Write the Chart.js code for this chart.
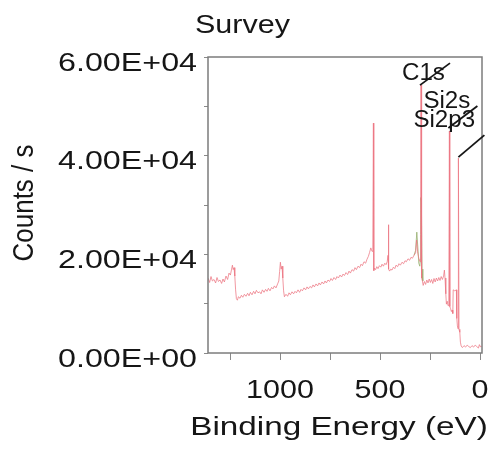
<!DOCTYPE html>
<html>
<head>
<meta charset="utf-8">
<script src="https://cdn.jsdelivr.net/npm/chart.js@4"></script>
<style>
  body { margin: 0; background: #fff; }
  #wrap { width: 492px; height: 449px; }
</style>
</head>
<body>
<div id="wrap"><canvas id="surveyChart" width="492" height="449"></canvas></div>
<script>
// binding energy (eV) and counts/s
const energy = [
  1360, 1352, 1345, 1338, 1330, 1322, 1315, 1308, 1300, 1292, 1285, 1278, 1270, 1262, 1255, 1248,
  1242, 1238, 1234, 1230, 1226, 1222, 1218, 1213,
  1208, 1200, 1193, 1186, 1178, 1170, 1162, 1155, 1148, 1140, 1132, 1125, 1118, 1110, 1102, 1095,
  1088, 1080, 1072, 1065, 1058, 1050, 1042, 1035, 1028, 1020, 1012, 1006, 1002, 998, 994, 990,
  986, 982, 978,
  970, 962, 955, 948, 940, 932, 925, 918, 910, 902, 895, 888, 880, 872, 865, 858, 850, 842, 835,
  828, 820, 812, 805, 798, 790, 782, 775, 768, 760, 752, 745, 738, 730, 722, 715, 708, 700, 692,
  685, 678, 670, 662, 655, 648, 640, 632, 625, 618, 610, 602, 595, 588, 580, 572, 565, 558, 552,
  546, 540, 536, 533, 531, 527, 522, 516, 510, 503, 496, 490, 483, 476, 470, 464, 460, 458, 456,
  452, 446, 440, 433, 426, 420, 412, 405, 398, 390, 382, 375, 368, 360, 352, 345, 338, 330, 322,
  317, 312, 306, 300, 297, 295, 292,
  288, 284, 278, 272, 266, 260, 254, 248, 242, 236, 230, 224, 218, 212, 206, 200, 194, 188, 182,
  178, 175, 171, 168, 164, 160, 156, 153, 151, 147, 143, 139, 136, 134, 126, 118, 116, 113, 110,
  108, 105, 101, 98, 94, 88, 80, 72, 64, 56, 48, 40, 32, 24, 16, 8, 3, -3, -8
];
const counts = [
  15200, 14300, 15500, 14600, 14900, 14200, 15300, 14500, 14800, 14100, 15000, 14400, 15600, 14900, 16200, 15800,
  17000, 17800, 16900, 17300, 15600, 12800, 11000, 10700,
  11400, 11100, 11700, 11300, 11900, 11500, 12100, 11600, 12300, 11800, 12500, 12000, 12700, 12200, 12400, 12000,
  12800, 12300, 12900, 12500, 13100, 12600, 13300, 13000, 13600, 13200, 14000, 14600, 16500, 18400, 17000, 17600,
  15200, 12600, 11400,
  11900, 11500, 12200, 11800, 12400, 12000, 12500, 12200, 12800, 12300, 12900, 12600, 13200, 12800, 13400, 13000, 13500, 13200, 13800,
  13400, 14000, 13600, 14200, 13800, 14400, 14000, 14600, 14200, 14800, 14500, 15100, 14700, 15300, 14900, 15500, 15200, 15800, 15400,
  16000, 15700, 16300, 15900, 16600, 16200, 16900, 16600, 17300, 16900, 17600, 17300, 18000, 17700, 18500, 18200, 19000, 19600, 20400,
  21300, 20600, 21000, 46600, 16700, 17200, 16900, 17500, 17100, 17700, 17400, 18000, 17600, 18200, 17900, 18500, 19800, 26000, 17000,
  16600, 17000, 16800, 17400, 17100, 17800, 17500, 18100, 17800, 18400, 18100, 18700, 18500, 19100, 18800, 19400, 19200, 19800, 20300,
  22900, 20500, 19200, 18500, 24000, 54300, 15200,
  14600, 13700, 14500, 13900, 14800, 14200, 15000, 14300, 14900, 14100, 15100, 14400, 15200, 14600, 15300, 14700, 15500, 14900, 15600,
  16800, 15200, 12000, 9900, 10500, 9600, 10100, 45000, 9400, 9000, 8400, 8700, 8000, 12800, 12600, 12800, 7000, 5500, 4900,
  39500, 4800, 4200, 2200, 1400, 1100, 1500, 1200, 1600, 1300, 1100, 1500, 1200, 1600, 1300, 1000, 1700, 1200, 1400
];

// second (green) trace, only visible around C1s
const greenEnergy = [330, 322, 316, 311, 306, 301, 298, 296, 293, 290, 286];
const greenCounts = [19800, 20800, 24500, 21500, 18200, 17600, 19000, 31500, 30500, 17000, 14600];

// peak labels
const peakNames = ['C1s', 'Si2s', 'Si2p3'];
const peakEnergy = [295, 153, 108];
const peakCounts = [54300, 45000, 39500];

// axes
const xTicks = [0, 250, 500, 750, 1000, 1250];
const xLabelValues = [1000, 500, 0];
const xLabels = ['1000', '500', '0'];
const yTicks = [0, 10000, 20000, 30000, 40000, 50000, 60000];
const yLabelValues = [0, 20000, 40000, 60000];
const yLabels = ['0.00E+00', '2.00E+04', '4.00E+04', '6.00E+04'];

const FONT = '"Liberation Sans", Arial, sans-serif';

function stretchText(ctx, text, x, y, align, size, sx, rot) {
  ctx.save();
  ctx.translate(x, y);
  if (rot) {
    ctx.rotate(rot);
    ctx.scale(1, sx);
  } else {
    ctx.scale(sx, 1);
  }
  ctx.font = size + 'px ' + FONT;
  ctx.textAlign = align;
  ctx.textBaseline = 'alphabetic';
  ctx.fillText(text, 0, 0);
  ctx.restore();
}

// box, tick labels, titles and peak labels
const surveyText = {
  id: 'surveyText',
  afterDraw(chart) {
    const { ctx, chartArea: a, scales: { x, y } } = chart;
    ctx.save();
    ctx.strokeStyle = '#7c7c7c';
    ctx.lineWidth = 1.5;
    ctx.strokeRect(a.left, a.top, a.right - a.left, a.bottom - a.top);

    ctx.fillStyle = '#161616';
    yLabelValues.forEach((v, i) => {
      stretchText(ctx, yLabels[i], a.left - 11, y.getPixelForValue(v) + 13.5, 'right', 25, 1.29);
    });
    xLabelValues.forEach((v, i) => {
      stretchText(ctx, xLabels[i], x.getPixelForValue(v), 398, 'center', 25, 1.22);
    });

    stretchText(ctx, 'Survey', 195, 33, 'left', 25, 1.22);
    stretchText(ctx, 'Binding Energy (eV)', 339, 435, 'center', 25, 1.33);
    stretchText(ctx, 'Counts / s', 33, 203, 'center', 26, 1.15, -Math.PI / 2);

    // text offset and line offset from the peak top
    const lab = [
      { tx: -19, ty: -5, x0: -1, y0: 0, x1: 29, y1: -22 },
      { tx: -26, ty: -23, x0: -1, y0: -3, x1: 28, y1: -25 },
      { tx: -45, ty: -31, x0: 0, y0: -1, x1: 26, y1: -23 }
    ];
    ctx.strokeStyle = '#161616';
    ctx.lineWidth = 1.8;
    peakNames.forEach((name, i) => {
      const px = x.getPixelForValue(peakEnergy[i]);
      const py = y.getPixelForValue(peakCounts[i]);
      const o = lab[i];
      stretchText(ctx, name, px + o.tx, py + o.ty, 'left', 23, 1.05);
      ctx.beginPath();
      ctx.moveTo(px + o.x0, py + o.y0);
      ctx.lineTo(px + o.x1, py + o.y1);
      ctx.stroke();
    });
    ctx.restore();
  }
};

new Chart(document.getElementById('surveyChart').getContext('2d'), {
  type: 'line',
  data: {
    datasets: [{
      label: 'Survey',
      data: energy.map((e, i) => ({ x: e, y: counts[i] })),
      borderColor: 'rgba(236, 118, 130, 0.75)',
      borderWidth: 1,
      pointRadius: 0,
      tension: 0
    }, {
      label: 'C1s region',
      data: greenEnergy.map((e, i) => ({ x: e, y: greenCounts[i] })),
      borderColor: 'rgba(150, 175, 110, 0.8)',
      borderWidth: 1,
      pointRadius: 0,
      tension: 0
    }]
  },
  options: {
    responsive: false,
    animation: false,
    layout: { padding: { top: 57, right: 10, left: 0, bottom: 0 } },
    plugins: {
      legend: { display: false },
      title: { display: false },
      tooltip: { enabled: false }
    },
    scales: {
      x: {
        type: 'linear',
        reverse: true,
        min: -10,
        max: 1360,
        afterBuildTicks: (scale) => { scale.ticks = xTicks.map(v => ({ value: v })); },
        afterFit: (scale) => { scale.height = 96; },
        ticks: { display: false },
        border: { display: false },
        grid: { drawOnChartArea: false, drawTicks: true, tickLength: 7, color: '#8a8a8a' }
      },
      y: {
        min: 0,
        max: 60000,
        afterBuildTicks: (scale) => { scale.ticks = yTicks.map(v => ({ value: v })); },
        afterFit: (scale) => { scale.width = 208; },
        ticks: { display: false },
        border: { display: false },
        grid: { drawOnChartArea: false, drawTicks: true, tickLength: 4, color: '#8a8a8a' }
      }
    }
  },
  plugins: [surveyText]
});
</script>
</body>
</html>
